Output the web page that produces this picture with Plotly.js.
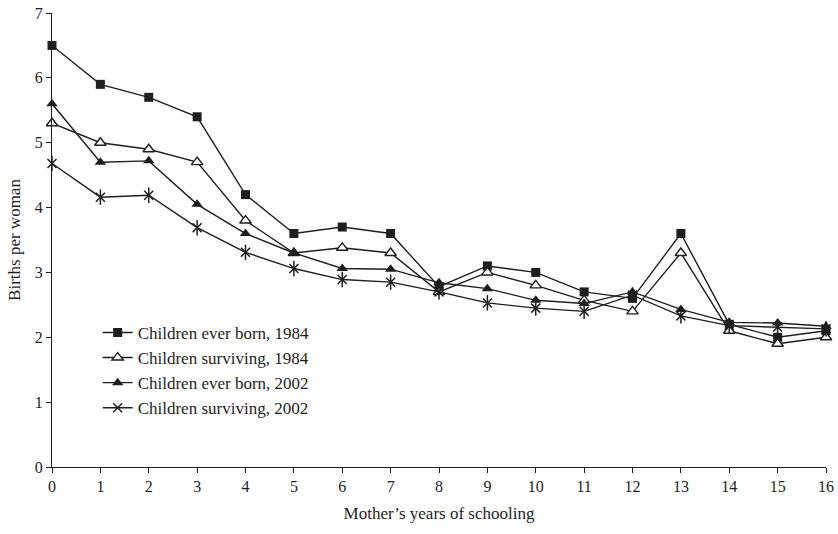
<!DOCTYPE html>
<html>
<head>
<meta charset="utf-8">
<script src="https://cdn.plot.ly/plotly-3.0.1.min.js"></script>
<style>html,body{margin:0;padding:0;background:#fff}#chart{width:838px;height:534px}</style>
</head>
<body>
<div id="chart"></div>
<script>
var years = [0,1,2,3,4,5,6,7,8,9,10,11,12,13,14,15,16];
var everBorn1984 = [6.5,5.9,5.7,5.4,4.2,3.6,3.7,3.6,2.78,3.1,3.0,2.7,2.6,3.6,2.2,2.0,2.1];
var surviving1984 = [5.3,5.0,4.9,4.7,3.8,3.3,3.38,3.3,2.7,3.0,2.8,2.57,2.4,3.3,2.1,1.9,2.0];
var everBorn2002 = [5.6,4.7,4.72,4.05,3.6,3.3,3.06,3.05,2.84,2.75,2.57,2.52,2.7,2.43,2.23,2.22,2.17];
var surviving2002 = [4.68,4.16,4.19,3.69,3.31,3.06,2.89,2.85,2.7,2.53,2.45,2.4,2.65,2.33,2.18,2.16,2.13];
var seriesNames = ["Children ever born, 1984","Children surviving, 1984","Children ever born, 2002","Children surviving, 2002"];
var xTitle = "Mother\u2019s years of schooling";
var yTitle = "Births per woman";

var ink = "#1e1e1e";
var lw = 1.4;
var traces = [
  {x: years, y: everBorn1984, name: seriesNames[0], mode: "lines+markers", cliponaxis: false,
   line: {color: ink, width: lw}, marker: {symbol: "square", size: 9, color: ink}},
  {x: years, y: surviving1984, name: seriesNames[1], mode: "lines+markers", cliponaxis: false,
   line: {color: ink, width: lw}, marker: {symbol: "triangle-up", size: 10, color: "#ffffff", line: {color: ink, width: 1.4}}},
  {x: years, y: everBorn2002, name: seriesNames[2], mode: "lines+markers", cliponaxis: false,
   line: {color: ink, width: lw}, marker: {symbol: "triangle-up", size: 10, color: ink}},
  {x: years, y: surviving2002, name: seriesNames[3], mode: "lines+markers", cliponaxis: false,
   line: {color: ink, width: lw}, marker: {symbol: "x-thin-open", size: 9, color: ink, line: {color: ink, width: 1.5}}},
  {x: years, y: surviving2002, name: seriesNames[3], mode: "markers", cliponaxis: false, showlegend: false, hoverinfo: "skip",
   marker: {symbol: "line-ns-open", size: 11, color: ink, line: {color: ink, width: 1.5}}}
];

var layout = {
  width: 838, height: 534,
  margin: {l: 52, r: 12, t: 13, b: 67},
  paper_bgcolor: "#ffffff", plot_bgcolor: "#ffffff",
  font: {family: "Liberation Serif, Times New Roman, serif", size: 16, color: ink},
  showlegend: true,
  legend: {x: 0.059, y: 0.335, xanchor: "left", yanchor: "top", bgcolor: "rgba(0,0,0,0)",
           font: {size: 17, color: ink}, itemwidth: 30},
  xaxis: {range: [0, 16], tickmode: "array", tickvals: years, ticktext: years.map(String),
          showline: true, linecolor: ink, linewidth: 1, ticks: "outside", ticklen: 5, tickcolor: ink,
          showgrid: false, zeroline: false, fixedrange: true,
          title: {text: xTitle, font: {size: 17}, standoff: 12}},
  yaxis: {range: [0, 7], tickvals: [0,1,2,3,4,5,6,7],
          showline: true, linecolor: ink, linewidth: 1, ticks: "outside", ticklen: 5, tickcolor: ink,
          showgrid: false, zeroline: false, fixedrange: true,
          title: {text: yTitle, font: {size: 17}, standoff: 9}}
};
Plotly.newPlot("chart", traces, layout, {displayModeBar: false, staticPlot: true});
</script>
</body>
</html>
